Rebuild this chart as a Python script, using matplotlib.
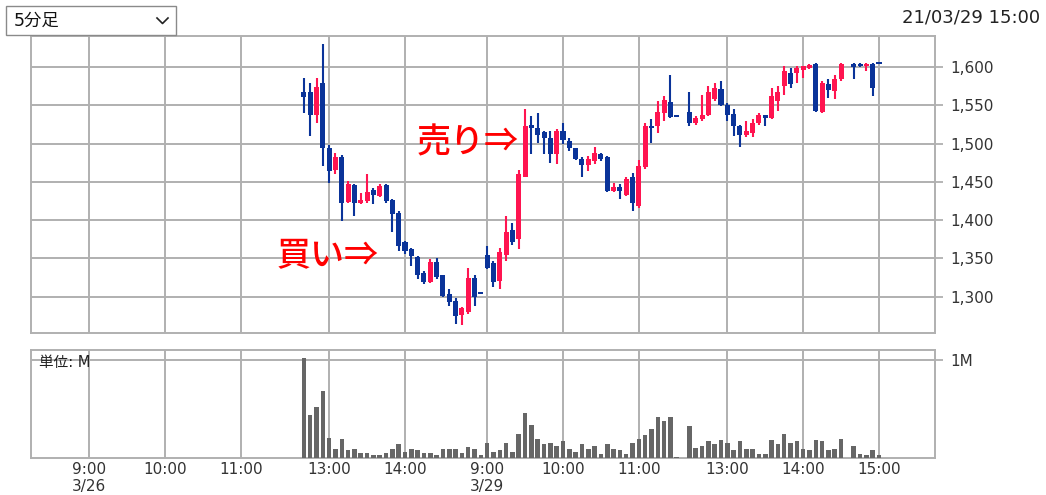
import numpy as np
import pandas as pd
import matplotlib
matplotlib.use('Agg')
import matplotlib.pyplot as plt
from matplotlib.lines import Line2D
from matplotlib.patches import Rectangle
from matplotlib.ticker import FuncFormatter

plt.rcParams['font.family'] = ['DejaVu Sans', 'Noto Sans CJK JP']

# 5-minute bars: 3/26 12:40-15:00, 3/29 9:00-11:30 and 12:30-15:00
times = (pd.date_range('2021-03-26 12:40', '2021-03-26 15:00', freq='5min')
         .append(pd.date_range('2021-03-29 09:00', '2021-03-29 11:30', freq='5min'))
         .append(pd.date_range('2021-03-29 12:30', '2021-03-29 15:00', freq='5min')))

nan = np.nan
opens = [1568, 1568, 1538, 1579, 1495, 1465, 1483, 1424, 1446, 1423, 1425, 1439, 1432, 1446, 1427,
         1410, 1371, 1362, 1352, 1331, 1319, 1346, 1328, 1303, 1295, 1276, 1280, 1325, 1304,
         1355, 1344, 1321, 1354, 1387, 1375, 1457, 1524, 1521, 1515, 1507, 1487, 1517, 1504, 1494,
         1480, 1472, 1477, 1487, 1482, 1438, 1443, 1433, 1456, 1419, 1469, 1523, 1523, 1540, 1554, 1535,
         1542, 1527, 1532, 1538, 1558, 1571, 1551, 1539, 1523, 1511, 1514, 1527, 1537, 1534, 1556,
         1575, 1593, 1593, 1597, 1599, 1604, 1541, 1578, 1569, 1584, nan, 1604, 1604, 1601, 1604, 1604]
highs = [1586, 1580, 1586, 1630, 1498, 1488, 1485, 1451, 1447, 1435, 1460, 1442, 1448, 1448, 1428,
         1412, 1373, 1364, 1353, 1334, 1349, 1350, 1329, 1310, 1298, 1286, 1338, 1329, 1304,
         1366, 1347, 1364, 1405, 1397, 1466, 1546, 1536, 1540, 1517, 1517, 1519, 1527, 1508, 1495,
         1482, 1484, 1496, 1488, 1484, 1449, 1447, 1457, 1462, 1479, 1527, 1532, 1556, 1562, 1590, 1535,
         1567, 1536, 1564, 1575, 1580, 1582, 1553, 1545, 1525, 1530, 1532, 1540, 1538, 1573, 1575,
         1601, 1599, 1601, 1602, 1604, 1605, 1582, 1584, 1590, 1605, nan, 1605, 1605, 1605, 1605, 1604]
lows = [1540, 1510, 1527, 1471, 1449, 1460, 1399, 1422, 1406, 1421, 1423, 1421, 1430, 1423, 1384,
        1360, 1356, 1340, 1323, 1316, 1318, 1323, 1300, 1288, 1265, 1263, 1278, 1288, 1304,
        1336, 1313, 1310, 1347, 1368, 1363, 1456, 1486, 1501, 1486, 1475, 1473, 1499, 1490, 1479,
        1457, 1464, 1474, 1478, 1437, 1437, 1428, 1432, 1412, 1416, 1467, 1501, 1514, 1530, 1534, 1535,
        1523, 1525, 1530, 1536, 1556, 1549, 1530, 1510, 1496, 1509, 1509, 1525, 1523, 1532, 1543,
        1564, 1573, 1580, 1586, 1598, 1542, 1540, 1560, 1558, 1582, nan, 1584, 1600, 1595, 1562, 1604]
closes = [1561, 1538, 1574, 1494, 1464, 1483, 1423, 1448, 1423, 1427, 1437, 1433, 1445, 1425, 1408,
          1366, 1360, 1353, 1329, 1319, 1346, 1326, 1301, 1293, 1275, 1285, 1325, 1300, 1304,
          1338, 1319, 1358, 1385, 1371, 1460, 1523, 1520, 1512, 1507, 1486, 1517, 1505, 1494, 1480,
          1472, 1480, 1488, 1480, 1438, 1444, 1438, 1454, 1423, 1471, 1523, 1520, 1541, 1557, 1535, 1535,
          1527, 1534, 1538, 1567, 1573, 1551, 1538, 1523, 1512, 1516, 1527, 1538, 1533, 1562, 1567,
          1595, 1578, 1599, 1601, 1603, 1543, 1580, 1570, 1584, 1604, nan, 1600, 1601, 1604, 1573, 1604]
# volume in millions of shares
volumes = [1.02, 0.44, 0.52, 0.68, 0.20, 0.09, 0.196, 0.074, 0.09, 0.044, 0.044, 0.024, 0.024, 0.044, 0.09,
           0.14, 0.06, 0.085, 0.074, 0.044, 0.044, 0.024, 0.09, 0.09, 0.09, 0.044, 0.11, 0.09, 0.024,
           0.15, 0.06, 0.074, 0.15, 0.06, 0.247, 0.458, 0.33, 0.196, 0.135, 0.15, 0.118, 0.17, 0.09, 0.06,
           0.135, 0.09, 0.118, 0.04, 0.135, 0.09, 0.074, 0.04, 0.15, 0.196, 0.23, 0.29, 0.42, 0.37, 0.42, 0.01,
           0.325, 0.10, 0.118, 0.166, 0.135, 0.18, 0.15, 0.074, 0.166, 0.09, 0.09, 0.04, 0.04, 0.18, 0.135,
           0.244, 0.15, 0.166, 0.09, 0.074, 0.18, 0.166, 0.074, 0.09, 0.196, nan, 0.118, 0.04, 0.024, 0.074, 0.024]

days = ['2021-03-26', '2021-03-29']
tick_times = pd.to_datetime(['2021-03-26 09:00', '2021-03-26 10:00', '2021-03-26 11:00',
                             '2021-03-26 13:00', '2021-03-26 14:00',
                             '2021-03-29 09:00', '2021-03-29 10:00', '2021-03-29 11:00',
                             '2021-03-29 13:00', '2021-03-29 14:00', '2021-03-29 15:00'])
price_ticks = [1300, 1350, 1400, 1450, 1500, 1550, 1600]

RED = '#ff1450'
BLUE = '#0a3399'
GRID = '#b0b0b0'


def slot(t):
    # bar position on the chart: 31 morning slots, one gap, 31 afternoon slots per day
    d = days.index(t.strftime('%Y-%m-%d'))
    m = (t.hour - 9) * 60 + t.minute
    s = m / 5 if m <= 150 else 32 + (m - 210) / 5
    return d * 63 + s


x = np.array([slot(t) for t in times])
o, h, l, c = (np.array(v, dtype=float) for v in (opens, highs, lows, closes))
vol = np.array(volumes, dtype=float)
ok = ~np.isnan(o)
col = np.where(c > o, RED, BLUE)

fig = plt.figure(figsize=(10.46, 4.95), dpi=100)
ax = fig.add_axes([31 / 1046, 1 - 333 / 495, 904 / 1046, 297 / 495])
axv = fig.add_axes([31 / 1046, 1 - 457.7 / 495, 904 / 1046, 107.7 / 495])

# candles
ax.vlines(x[ok], l[ok], h[ok], colors=col[ok], lw=1.5, zorder=3)
bottom = np.minimum(o, c)
height = np.maximum(np.abs(c - o), 2.4)
ax.bar(x[ok], height[ok], bottom=bottom[ok], width=0.8, color=col[ok], linewidth=0, zorder=4)

# volume
okv = ~np.isnan(vol)
axv.bar(x[okv], vol[okv], width=0.72, color='#666666', linewidth=0, zorder=3)

ticks = [slot(t) for t in tick_times]
labels = []
for t in tick_times:
    lab = f'{t.hour}:{t.minute:02d}'
    if t.hour == 9:
        lab += f'\n{t.month}/{t.day}'
    labels.append(lab)

for a in (ax, axv):
    a.set_xlim(-9.18, 133.86)
    a.set_xticks(ticks)
    a.set_axisbelow(True)
    a.grid(True, color=GRID, lw=1.4)
    a.yaxis.tick_right()
    a.tick_params(axis='y', length=5.8, width=1.3, color=GRID, labelsize=11, labelcolor='#333333', pad=5)
    for s in a.spines.values():
        s.set_color(GRID)
        s.set_linewidth(1.4)

ax.set_ylim(1252.6, 1640.8)
ax.set_yticks(price_ticks)
ax.yaxis.set_major_formatter(FuncFormatter(lambda v, p: f'{v:,.0f}'))
ax.tick_params(axis='x', length=0, labelbottom=False)

axv.set_ylim(0, 1.10)
axv.set_yticks([1])
axv.set_yticklabels(['1M'])
axv.set_xticklabels(labels)
axv.tick_params(axis='x', length=0, labelsize=11, labelcolor='#333333', pad=3)
axv.text(0.009, 0.955, '単位: M', transform=axv.transAxes, ha='left', va='top', fontsize=10.5, color='#222222')

# annotations
ax.text(29.7, 1353, '買い⇒', ha='left', va='center', fontsize=24.5, color='#ff0000', weight='medium',
        family=['Noto Sans CJK JP', 'DejaVu Sans'], zorder=5)
ax.text(51.9, 1501, '売り⇒', ha='left', va='center', fontsize=24.5, color='#ff0000', weight='medium',
        family=['Noto Sans CJK JP', 'DejaVu Sans'], zorder=5)

# header: period selector and timestamp
fig.add_artist(Rectangle((6 / 1046, 1 - 35 / 495), 170 / 1046, 29 / 495, transform=fig.transFigure,
                         facecolor='white', edgecolor='#8a8a8a', lw=1.0))
fig.text(14 / 1046, 1 - 20.5 / 495, '5分足', ha='left', va='center', fontsize=12.5, color='#111111')
fig.add_artist(Line2D([157 / 1046, 162.5 / 1046, 168 / 1046], [1 - 18 / 495, 1 - 23.5 / 495, 1 - 18 / 495],
                      transform=fig.transFigure, color='#222222', lw=1.2))
fig.text(1040 / 1046, 1 - 17.5 / 495, '21/03/29 15:00', ha='right', va='center', fontsize=13, color='#222222')

fig.savefig('out.png', dpi=100)
